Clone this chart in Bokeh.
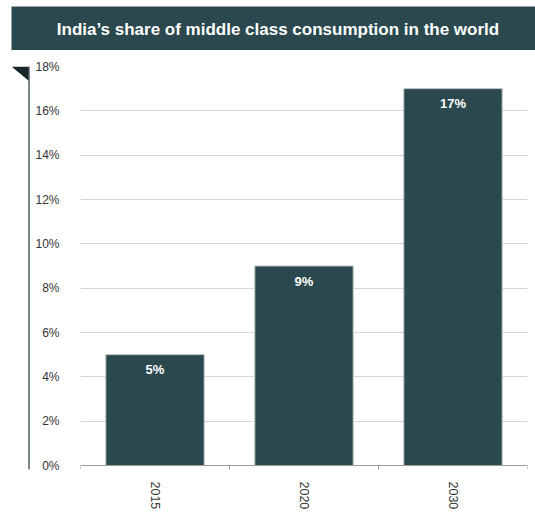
from bokeh.plotting import figure
from bokeh.layouts import column, row
from bokeh.models import (FactorRange, Range1d, FixedTicker, PrintfTickFormatter,
                          ColumnDataSource)
from bokeh.core.properties import value
from bokeh.embed import file_html
from bokeh.resources import INLINE

# ---- data ----
title_text = "India\u2019s share of middle class consumption in the world"
years = ["2015", "2020", "2030"]
shares = [5, 9, 17]
share_labels = ["5%", "9%", "17%"]
y_ticks = [0, 2, 4, 6, 8, 10, 12, 14, 16, 18]

DARK = "#2a484e"
FOLD = "#16262a"
FONT = "Liberation Sans"

# ---- banner ----
banner = figure(width=535, height=50, x_range=Range1d(0, 535), y_range=Range1d(50, 0),
                output_backend="svg", toolbar_location=None,
                min_border_left=0, min_border_right=0, min_border_top=0, min_border_bottom=0)
banner.axis.visible = False
banner.grid.visible = False
banner.outline_line_color = None
banner.background_fill_color = "white"
banner.border_fill_color = "white"
banner.quad(left=[11], right=[535], top=[6], bottom=[50], fill_color=DARK, line_color=None)
banner.text(x=[277.5], y=[28.5], text=[title_text], text_color="white",
            text_font=value(FONT), text_font_style="bold", text_font_size="17px",
            text_align="center", text_baseline="middle")

# ---- left strip with fold triangle and vertical line ----
strip = figure(width=30, height=462, x_range=Range1d(0, 30), y_range=Range1d(462, 0),
               output_backend="svg", toolbar_location=None,
               min_border_left=0, min_border_right=0, min_border_top=0, min_border_bottom=0)
strip.axis.visible = False
strip.grid.visible = False
strip.outline_line_color = None
strip.patch(x=[11, 28.5, 28.5], y=[0, 0, 16.5], fill_color=FOLD, line_color=None)
strip.segment(x0=[28.5], y0=[0], x1=[28.5], y1=[462], line_color="#4d5d61", line_width=1.5)

# ---- main chart ----
p = figure(width=505, height=462, x_range=FactorRange(*years, range_padding=0),
           y_range=Range1d(-0.18, 18), output_backend="svg", toolbar_location=None,
           min_border_left=50, min_border_right=8, min_border_top=16, min_border_bottom=40)
p.outline_line_color = None
p.background_fill_color = "white"
p.border_fill_color = "white"

src = ColumnDataSource(dict(year=years, share=shares, label=share_labels))
p.vbar(x="year", top="share", width=0.66, source=src,
       fill_color=DARK, line_color="#b9c1c3", line_width=1)
p.text(x="year", y="share", text="label", source=src, text_color="white",
       text_font=value(FONT), text_font_style="bold", text_font_size="13px",
       text_align="center", text_baseline="middle", y_offset=15)

# x axis line and boundary ticks (categorical offsets)
p.segment(x0=[(years[0], -0.5)], y0=[0], x1=[(years[-1], 0.5)], y1=[0],
          line_color="#9a9a9a", line_width=1)
edges = [(y, -0.5) for y in years] + [(years[-1], 0.5)]
p.segment(x0=edges, y0=[0] * len(edges), x1=edges, y1=[-0.18] * len(edges),
          line_color="#9a9a9a", line_width=1)

# y axis
p.yaxis.ticker = FixedTicker(ticks=y_ticks)
p.yaxis.formatter = PrintfTickFormatter(format="%d%%")
p.yaxis.axis_line_color = None
p.yaxis.major_tick_line_color = None
p.yaxis.minor_tick_line_color = None
p.yaxis.major_label_standoff = 15
p.yaxis.major_label_text_font = FONT
p.yaxis.major_label_text_font_size = "12px"
p.yaxis.major_label_text_color = "#333333"

p.ygrid.ticker = FixedTicker(ticks=y_ticks[1:])
p.ygrid.grid_line_color = "#d6d6d6"
p.ygrid.grid_line_width = 1
p.xgrid.visible = False

# x axis labels
p.xaxis.axis_line_color = None
p.xaxis.major_tick_line_color = None
p.xaxis.minor_tick_line_color = None
p.xaxis.major_label_orientation = "vertical"
p.xaxis.major_label_standoff = 6
p.xaxis.major_label_text_font = FONT
p.xaxis.major_label_text_font_size = "12.5px"
p.xaxis.major_label_text_color = "#333333"

layout = column(banner, row(strip, p, spacing=0), spacing=0)
open("out.html", "w").write(file_html(layout, INLINE))
